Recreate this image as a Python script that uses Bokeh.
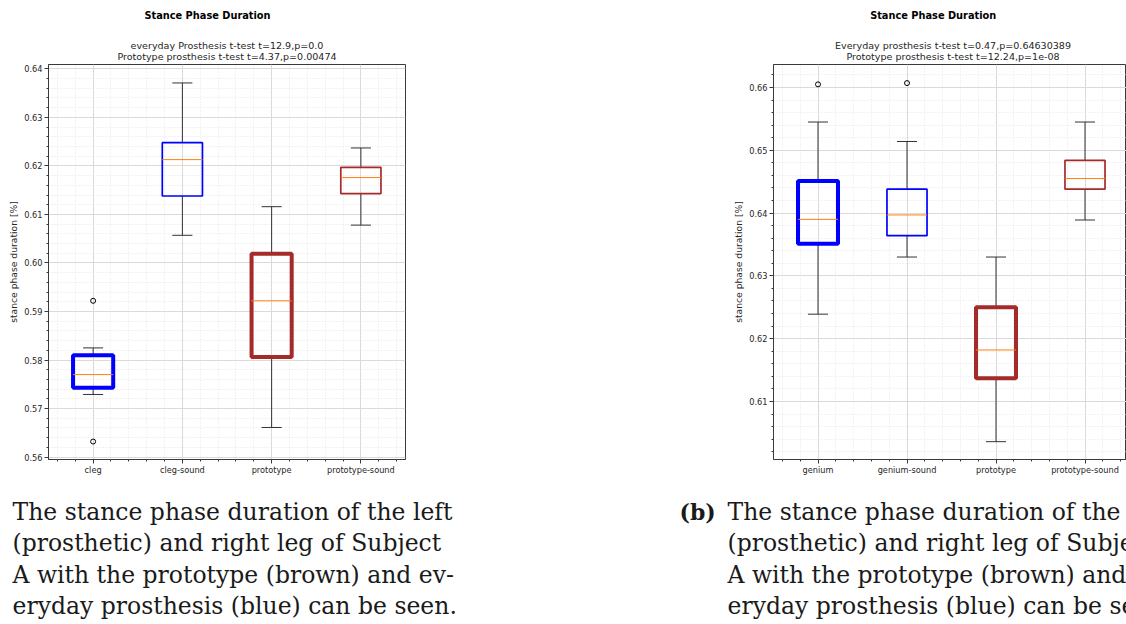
import numpy as np
from bokeh.plotting import figure
from bokeh.models import (Range1d, FixedTicker, SingleIntervalTicker,
                          NumeralTickFormatter, ColumnDataSource)
from bokeh.layouts import column, row
from bokeh.embed import file_html
from bokeh.resources import INLINE
from bokeh.core.properties import value

# ---------------- data ----------------
positions = [1, 2, 3, 4]
box_colors = ["blue", "blue", "brown", "brown"]
box_widths_px = [4, 1.7, 4, 1.7]

left_categories = ["cleg", "cleg-sound", "prototype", "prototype-sound"]
left_q1 = [0.5743, 0.6138, 0.5806, 0.6143]
left_median = [0.5770, 0.6213, 0.5922, 0.6176]
left_q3 = [0.5810, 0.6248, 0.6019, 0.6197]
left_whisker_low = [0.5729, 0.6057, 0.5661, 0.6078]
left_whisker_high = [0.5825, 0.6371, 0.6116, 0.6237]
left_outlier_pos = [1, 1]
left_outlier_val = [0.5922, 0.5632]
left_subtitle = ["everyday Prosthesis t-test t=12.9,p=0.0",
                 "Prototype prosthesis t-test t=4.37,p=0.00474"]

right_categories = ["genium", "genium-sound", "prototype", "prototype-sound"]
right_q1 = [0.6351, 0.6364, 0.6137, 0.6438]
right_median = [0.6390, 0.6397, 0.6182, 0.6455]
right_q3 = [0.6451, 0.6438, 0.6250, 0.6484]
right_whisker_low = [0.6239, 0.6330, 0.6036, 0.6389]
right_whisker_high = [0.6545, 0.6514, 0.6330, 0.6545]
right_outlier_pos = [1, 2]
right_outlier_val = [0.6605, 0.6607]
right_subtitle = ["Everyday prosthesis t-test t=0.47,p=0.64630389",
                  "Prototype prosthesis t-test t=12.24,p=1e-08"]

main_title = "Stance Phase Duration"
y_label = "stance phase duration [%]"

caption_lines = ["The stance phase duration of the left",
                 "(prosthetic) and right leg of Subject",
                 "A with the prototype (brown) and ev-",
                 "eryday prosthesis (blue) can be seen."]
caption_tag = "(b)"

BOX_W = 0.45
CAP_W = 0.225
TXT = "#262626"
FONT = "DejaVu Sans"
PAGE_W = 1126
HEADER_H = 63
CAPTION_H = 144


def blank_canvas(height):
    """A figure whose data units are page pixels (y downward), used for free text."""
    f = figure(width=PAGE_W, height=height, x_range=Range1d(0, PAGE_W),
               y_range=Range1d(height, 0), output_backend="svg", toolbar_location=None,
               x_axis_location=None, y_axis_location=None, min_border=0)
    f.outline_line_color = None
    f.grid.visible = False
    f.background_fill_color = "white"
    f.border_fill_color = "white"
    return f


def box_plot(cats, q1, med, q3, lo, hi, opos, oval, y_rng, x_end,
             min_left, min_right, frame_w):
    p = figure(frame_width=frame_w, frame_height=395,
               x_range=Range1d(0.5, x_end), y_range=Range1d(*y_rng),
               output_backend="svg", toolbar_location=None,
               min_border_left=min_left, min_border_right=min_right,
               min_border_top=1, min_border_bottom=21)
    p.background_fill_color = "white"
    p.border_fill_color = "white"
    p.outline_line_color = "#3a3a3a"
    p.outline_line_width = 1

    # axes
    minor_x = [v for v in np.round(np.arange(0.6, 4.5, 0.2), 2) if abs(v - round(v)) > 1e-6]
    p.xaxis.ticker = FixedTicker(ticks=positions, minor_ticks=minor_x)
    p.xaxis.major_label_overrides = {pos: c for pos, c in zip(positions, cats)}
    p.yaxis.ticker = SingleIntervalTicker(interval=0.01, num_minor_ticks=5)
    p.yaxis.formatter = NumeralTickFormatter(format="0.00")
    p.yaxis.axis_label = y_label
    for ax in (p.xaxis[0], p.yaxis[0]):
        ax.axis_line_color = "#3a3a3a"
        ax.major_tick_line_color = "#3a3a3a"
        ax.minor_tick_line_color = "#3a3a3a"
        ax.major_tick_out = 4
        ax.major_tick_in = 0
        ax.minor_tick_out = 2
        ax.minor_tick_in = 0
        ax.major_label_text_font = FONT
        ax.major_label_text_font_size = "8.2px"
        ax.major_label_text_color = TXT
        ax.major_label_standoff = 2
        ax.axis_label_text_font = FONT
        ax.axis_label_text_font_size = "9.2px"
        ax.axis_label_text_font_style = "normal"
        ax.axis_label_text_color = TXT
        ax.axis_label_standoff = 2
    p.xaxis.major_label_standoff = 1

    # grid
    for g in (p.xgrid[0], p.ygrid[0]):
        g.grid_line_color = "#dadada"
        g.grid_line_width = 1
        g.minor_grid_line_color = "#e4e4e4"
        g.minor_grid_line_dash = "1 2"
        g.minor_grid_line_width = 1

    src = ColumnDataSource(dict(
        x=positions, q1=q1, med=med, q3=q3, lo=lo, hi=hi,
        left=[x - BOX_W / 2 for x in positions], right=[x + BOX_W / 2 for x in positions],
        cl=[x - CAP_W / 2 for x in positions], cr=[x + CAP_W / 2 for x in positions],
        color=box_colors, lw=box_widths_px))

    # whiskers and caps
    p.segment(x0="x", y0="q3", x1="x", y1="hi", source=src, line_color="#333333", line_width=1)
    p.segment(x0="x", y0="q1", x1="x", y1="lo", source=src, line_color="#333333", line_width=1)
    p.segment(x0="cl", y0="hi", x1="cr", y1="hi", source=src, line_color="#333333", line_width=1)
    p.segment(x0="cl", y0="lo", x1="cr", y1="lo", source=src, line_color="#333333", line_width=1)
    # boxes
    p.quad(left="left", right="right", top="q3", bottom="q1", source=src,
           fill_color=None, line_color="color", line_width="lw")
    # medians
    p.segment(x0="left", y0="med", x1="right", y1="med", source=src,
              line_color="#ff7f0e", line_width=1)
    # outliers
    p.scatter(x=opos, y=oval, marker="circle", size=5, fill_color=None,
              line_color="black", line_width=1)
    return p


left = box_plot(left_categories, left_q1, left_median, left_q3, left_whisker_low,
                left_whisker_high, left_outlier_pos, left_outlier_val,
                (0.5595, 0.6409), 4.5, 48, 155, 357)
right = box_plot(right_categories, right_q1, right_median, right_q3, right_whisker_low,
                 right_whisker_high, right_outlier_pos, right_outlier_val,
                 (0.60076, 0.66366), 0.5 + 353 / 89.0, 213, 0, 353)

# ---------------- titles above the two panels ----------------
header = blank_canvas(HEADER_H)
title_x = [207, 932.7]          # page-pixel centres of the two suptitles
subtitle_x = [226.5, 952.5]     # page-pixel centres of the subtitle blocks
header.text(x=title_x, y=[15, 15], text=[main_title, main_title],
            text_font=value(FONT), text_font_size="9.8px", text_font_style="bold",
            text_align="center", text_baseline="middle", text_color="black")
sub_src = ColumnDataSource(dict(
    x=[subtitle_x[0], subtitle_x[0], subtitle_x[1], subtitle_x[1]],
    y=[45, 56, 45, 56],
    text=left_subtitle + right_subtitle))
header.text(x="x", y="y", text="text", source=sub_src,
            text_font=value(FONT), text_font_size="9.55px",
            text_align="center", text_baseline="middle", text_color=TXT)

# ---------------- captions ----------------
cap = blank_canvas(CAPTION_H)
baselines = [31, 62, 94, 125]
cap_src_l = ColumnDataSource(dict(x=[12] * 4, y=baselines, text=caption_lines))
cap_src_r = ColumnDataSource(dict(x=[727] * 4, y=baselines, text=caption_lines))
for s in (cap_src_l, cap_src_r):
    cap.text(x="x", y="y", text="text", source=s, text_font=value("DejaVu Serif"),
             text_font_size="23.5px", text_baseline="alphabetic", text_align="left",
             text_color="#1a1a1a")
cap.text(x=[679], y=[baselines[0]], text=[caption_tag], text_font=value("DejaVu Serif"),
         text_font_size="22px", text_font_style="bold", text_baseline="alphabetic",
         text_align="left", text_color="#1a1a1a")

layout = column(header, row(left, right), cap)
open("out.html", "w").write(file_html(layout, INLINE))
